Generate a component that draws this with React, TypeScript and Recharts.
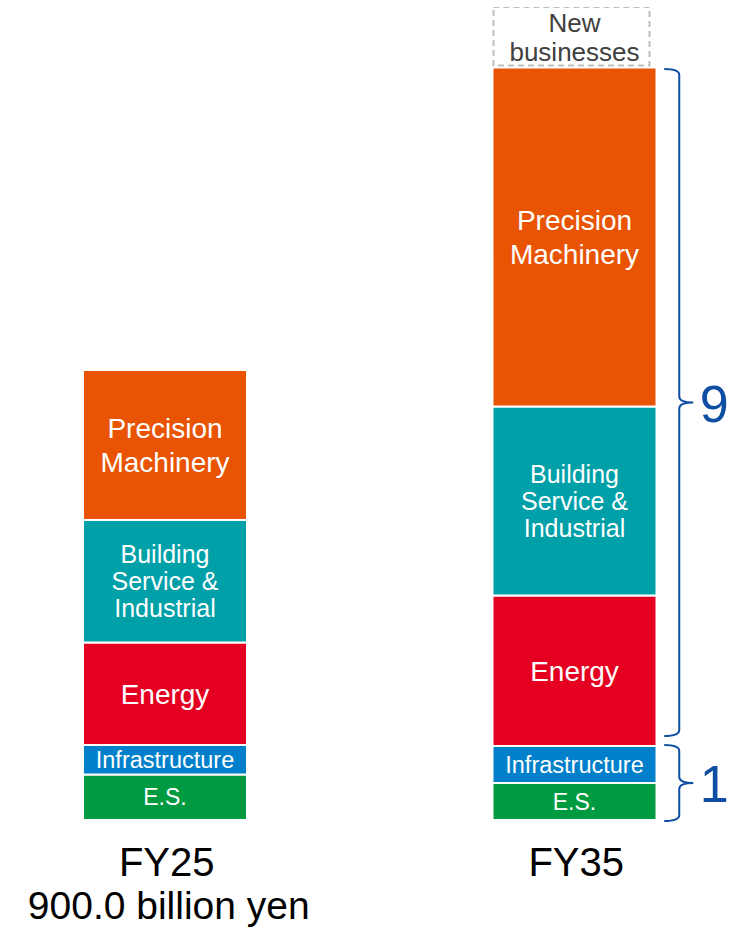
import React from "react";
import { BarChart, Bar, XAxis, YAxis, LabelList, ReferenceArea } from "recharts";

// values in billion yen
const categories = ["FY25", "FY35"];
const subCaptions = ["900.0 billion yen", ""];
const es = [91, 74];
const infrastructure = [59, 74];
const energy = [205, 301];
const building = [245, 378];
const precision = [300, 678];
const newBusinesses = [null, 121];

const braceLabels = ["9", "1"];

const FONT = '"Liberation Sans", Arial, sans-serif';
const BAR = 164; // includes the 1px white edge on each side
const BRACE_COLOR = "#0e4ea3";

const chartData = categories.map((name, i) => ({
  name,
  es: es[i],
  infrastructure: infrastructure[i],
  energy: energy[i],
  building: building[i],
  precision: precision[i],
  newBusinesses: newBusinesses[i],
}));

const lowerSum = es[1] + infrastructure[1];
const coreSum = lowerSum + energy[1] + building[1] + precision[1];
const total = coreSum + (newBusinesses[1] ?? 0);

// multi-line text centred in a stacked segment
function segmentLabel(lines: string[], fontSize: number, lineHeight: number, color = "#fff") {
  return (props: any) => {
    const { x, y, width, height } = props;
    if (!height || height <= 0) return null;
    const cx = Number(x) + Number(width) / 2;
    const cy = Number(y) + Number(height) / 2;
    const n = lines.length;
    return (
      <text textAnchor="middle" fill={color} fontSize={fontSize} fontFamily={FONT}>
        {lines.map((line, i) => (
          <tspan key={i} x={cx} y={cy + (i - (n - 1) / 2) * lineHeight + 0.35 * fontSize}>
            {line}
          </tspan>
        ))}
      </text>
    );
  };
}

function CategoryTick(props: any) {
  const { x, y, payload, index } = props;
  const sub = subCaptions[index];
  return (
    <g>
      <text x={x + 2} y={y + 56} textAnchor="middle" fontSize={40} fill="#000" fontFamily={FONT}>
        {payload.value}
      </text>
      {sub ? (
        <text x={x + 4} y={y + 99} textAnchor="middle" fontSize={39} fill="#000" fontFamily={FONT}>
          {sub}
        </text>
      ) : null}
    </g>
  );
}

function DashedBox(props: any) {
  const { x, y, width, height } = props;
  if (!height || height <= 0) return null;
  return (
    <rect
      x={x + 1}
      y={y}
      width={width - 8}
      height={height - 2}
      fill="none"
      stroke="#bfbfbf"
      strokeWidth={2}
      strokeDasharray="6 4"
    />
  );
}

function brace(label: string, insetTop: number, insetBottom: number) {
  return (props: any) => {
    const { x, y, width, height } = props;
    const barRight = x + width / 2 + BAR / 2 - 1;
    const xs = barRight + 9;
    const xv = barRight + 24;
    const xt = barRight + 38;
    const y1 = y + insetTop;
    const y2 = y + height - insetBottom;
    const ym = (y1 + y2) / 2;
    const r = 6;
    const d = [
      `M${xs},${y1}`,
      `Q${xv},${y1} ${xv},${y1 + r}`,
      `L${xv},${ym - r}`,
      `Q${xv},${ym} ${xt},${ym}`,
      `M${xt},${ym}`,
      `Q${xv},${ym} ${xv},${ym + r}`,
      `L${xv},${y2 - r}`,
      `Q${xv},${y2} ${xs},${y2}`,
    ].join(" ");
    return (
      <g>
        <path d={d} fill="none" stroke={BRACE_COLOR} strokeWidth={2} />
        <text
          x={xt + 21}
          y={ym + 19}
          textAnchor="middle"
          fontSize={52}
          fill={BRACE_COLOR}
          fontFamily={FONT}
        >
          {label}
        </text>
      </g>
    );
  };
}

export default function App() {
  return (
    <div style={{ position: "absolute", left: 0, top: 0, width: 735, height: 927, background: "#fff" }}>
      <BarChart
        width={735}
        height={927}
        data={chartData}
        margin={{ top: 7, right: -44, bottom: 0, left: -40 }}
      >
        <XAxis
          dataKey="name"
          axisLine={false}
          tickLine={false}
          tickSize={0}
          tickMargin={0}
          height={107}
          interval={0}
          tick={<CategoryTick />}
        />
        <YAxis hide domain={[0, total]} allowDataOverflow />
        <Bar dataKey="es" stackId="a" fill="#009b41" stroke="#fff" strokeWidth={2} barSize={BAR} isAnimationActive={false}>
          <LabelList dataKey="es" content={segmentLabel(["E.S."], 23, 26)} />
        </Bar>
        <Bar dataKey="infrastructure" stackId="a" fill="#0080ca" stroke="#fff" strokeWidth={2} barSize={BAR} isAnimationActive={false}>
          <LabelList dataKey="infrastructure" content={segmentLabel(["Infrastructure"], 23.5, 26)} />
        </Bar>
        <Bar dataKey="energy" stackId="a" fill="#e50021" stroke="#fff" strokeWidth={2} barSize={BAR} isAnimationActive={false}>
          <LabelList dataKey="energy" content={segmentLabel(["Energy"], 28, 34)} />
        </Bar>
        <Bar dataKey="building" stackId="a" fill="#00a0a9" stroke="#fff" strokeWidth={2} barSize={BAR} isAnimationActive={false}>
          <LabelList dataKey="building" content={segmentLabel(["Building", "Service &", "Industrial"], 25, 27)} />
        </Bar>
        <Bar dataKey="precision" stackId="a" fill="#e85403" stroke="#fff" strokeWidth={2} barSize={BAR} isAnimationActive={false}>
          <LabelList dataKey="precision" content={segmentLabel(["Precision", "Machinery"], 28, 34)} />
        </Bar>
        <Bar dataKey="newBusinesses" stackId="a" fill="none" barSize={BAR} shape={<DashedBox />} isAnimationActive={false}>
          <LabelList dataKey="newBusinesses" content={segmentLabel(["New", "businesses"], 26, 29, "#404040")} />
        </Bar>
        <ReferenceArea
          x1="FY35"
          x2="FY35"
          y1={lowerSum}
          y2={coreSum}
          ifOverflow="visible"
          shape={brace(braceLabels[0], 1.5, 10)}
        />
        <ReferenceArea
          x1="FY35"
          x2="FY35"
          y1={0}
          y2={lowerSum}
          ifOverflow="visible"
          shape={brace(braceLabels[1], -1, -1)}
        />
      </BarChart>
    </div>
  );
}
